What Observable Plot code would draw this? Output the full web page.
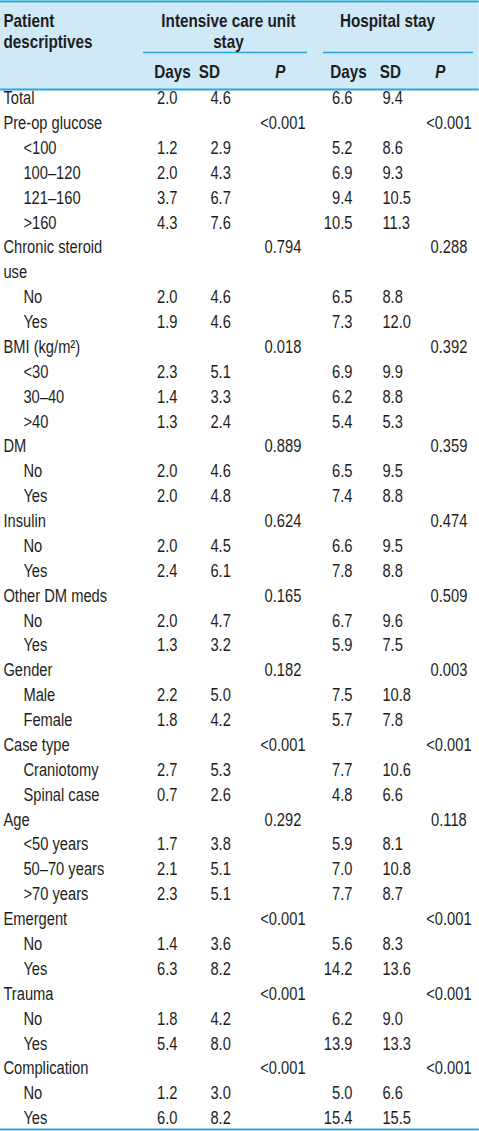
<!DOCTYPE html>
<html><head><meta charset="utf-8">
<script src="https://cdn.jsdelivr.net/npm/d3@7"></script>
<script src="https://cdn.jsdelivr.net/npm/@observablehq/plot@0.6"></script>
<style>html,body{margin:0;padding:0;background:#fff;overflow:hidden} svg{display:block}</style>
</head><body><div id="chart"></div>
<script>
// ---- data ----
const labels = ["Total","Pre-op glucose","<100","100–120","121–160",">160","Chronic steroid\nuse","No","Yes","BMI (kg/m²)","<30","30–40",">40","DM","No","Yes","Insulin","No","Yes","Other DM meds","No","Yes","Gender","Male","Female","Case type","Craniotomy","Spinal case","Age","<50 years","50–70 years",">70 years","Emergent","No","Yes","Trauma","No","Yes","Complication","No","Yes"];
const indent = [0,0,1,1,1,1,0,1,1,0,1,1,1,0,1,1,0,1,1,0,1,1,0,1,1,0,1,1,0,1,1,1,0,1,1,0,1,1,0,1,1];
const icuDays = [2.0,null,1.2,2.0,3.7,4.3,null,2.0,1.9,null,2.3,1.4,1.3,null,2.0,2.0,null,2.0,2.4,null,2.0,1.3,null,2.2,1.8,null,2.7,0.7,null,1.7,2.1,2.3,null,1.4,6.3,null,1.8,5.4,null,1.2,6.0];
const icuSD = [4.6,null,2.9,4.3,6.7,7.6,null,4.6,4.6,null,5.1,3.3,2.4,null,4.6,4.8,null,4.5,6.1,null,4.7,3.2,null,5.0,4.2,null,5.3,2.6,null,3.8,5.1,5.1,null,3.6,8.2,null,4.2,8.0,null,3.0,8.2];
const icuP = [null,"<0.001",null,null,null,null,"0.794",null,null,"0.018",null,null,null,"0.889",null,null,"0.624",null,null,"0.165",null,null,"0.182",null,null,"<0.001",null,null,"0.292",null,null,null,"<0.001",null,null,"<0.001",null,null,"<0.001",null,null];
const hospDays = [6.6,null,5.2,6.9,9.4,10.5,null,6.5,7.3,null,6.9,6.2,5.4,null,6.5,7.4,null,6.6,7.8,null,6.7,5.9,null,7.5,5.7,null,7.7,4.8,null,5.9,7.0,7.7,null,5.6,14.2,null,6.2,13.9,null,5.0,15.4];
const hospSD = [9.4,null,8.6,9.3,10.5,11.3,null,8.8,12.0,null,9.9,8.8,5.3,null,9.5,8.8,null,9.5,8.8,null,9.6,7.5,null,10.8,7.8,null,10.6,6.6,null,8.1,10.8,8.7,null,8.3,13.6,null,9.0,13.3,null,6.6,15.5];
const hospP = [null,"<0.001",null,null,null,null,"0.288",null,null,"0.392",null,null,null,"0.359",null,null,"0.474",null,null,"0.509",null,null,"0.003",null,null,"<0.001",null,null,"0.118",null,null,null,"<0.001",null,null,"<0.001",null,null,"<0.001",null,null];
const groupHeaders = ["Intensive care unit\nstay", "Hospital stay"];
const subHeaders = ["Days","SD","P","Days","SD","P"];
const stubHeader = "Patient\ndescriptives";

// ---- layout ----
const W = 479, H = 1131;
const SQUEEZE = 0.84;                       // horizontal condensing of the whole drawing (narrow type)
const firstRow = 98, LH = 24.88;            // pixel position of first body line, line height
const px = p => (p - firstRow) / LH;        // pixel -> line units
const FONT = "'Liberation Sans',Arial,sans-serif";
const FS = 17.5, FSB = 18.2;
const INK = "#1e1e1e", LINE = "#2aa7d7", HEAD_BG = "#cfe9f7";

let cur = 0;
const rows = labels.map((label, i) => {
  const r = {label, indent: indent[i], line: cur,
    icuDays: icuDays[i], icuSD: icuSD[i], icuP: icuP[i],
    hospDays: hospDays[i], hospSD: hospSD[i], hospP: hospP[i]};
  cur += label.split("\n").length;
  return r;
});
const labelLines = rows.flatMap(r => r.label.split("\n").map((t, k) => ({text: t, line: r.line + k, indent: r.indent})));
const f1 = d3.format(".1f");

const cols = [
  ["icuDays", 177, "end", f1], ["icuSD", 210, "start", f1], ["icuP", 282.5, "middle", d => d],
  ["hospDays", 352, "end", f1], ["hospSD", 382, "start", f1], ["hospP", 448.5, "middle", d => d]
];
const subHeadX = [172, 209, 280, 348, 390, 440];
const groupX = [228, 387];
const groupLine = [[143, 307], [323, 473]];

const textCommon = {fontFamily: FONT, fontSize: FS, fill: INK};
const boldCommon = {fontFamily: FONT, fontSize: FSB, fill: INK, fontWeight: "bold", lineHeight: 21.5 / FSB};
const subIdx = subHeaders.map((d, i) => i);

const marks = [
  Plot.rect([0], {x1: 0, x2: W, y1: px(0), y2: px(89), fill: HEAD_BG}),
  Plot.ruleY([px(1), px(89), px(1129)], {x1: 0, x2: W, stroke: LINE, strokeWidth: 2}),
  Plot.ruleY(groupLine, {y: px(52), x1: d => d[0], x2: d => d[1], stroke: LINE, strokeWidth: 1.5}),
  Plot.text([stubHeader], {x: 3, y: px(18), text: d => d, textAnchor: "start", lineAnchor: "top", dy: -0.38 * FSB, ...boldCommon}),
  Plot.text(groupHeaders, {x: (d, i) => groupX[i], y: px(18), text: d => d, textAnchor: "middle", lineAnchor: "top", dy: -0.38 * FSB, ...boldCommon}),
  Plot.text(subIdx.filter(i => subHeaders[i] !== "P"), {x: i => subHeadX[i], y: px(71), text: i => subHeaders[i], textAnchor: "middle", ...boldCommon}),
  Plot.text(subIdx.filter(i => subHeaders[i] === "P"), {x: i => subHeadX[i], y: px(71), text: i => subHeaders[i], textAnchor: "middle", ...boldCommon, fontStyle: "italic"}),
  Plot.text(labelLines, {x: d => d.indent ? 23 : 3, y: "line", text: "text", textAnchor: "start", ...textCommon}),
  ...cols.map(([key, x, anchor, fmt]) =>
    Plot.text(rows.filter(r => r[key] != null), {x: x, y: "line", text: r => fmt(r[key]), textAnchor: anchor, ...textCommon}))
];

const WW = W / SQUEEZE;
const chart = Plot.plot({
  width: WW, height: H, margin: 0,
  x: {type: "linear", domain: [0, W], range: [0, WW], axis: null},
  y: {type: "linear", domain: [px(0), px(H)], range: [0, H], axis: null},
  style: {fontFamily: FONT, fontSize: FS + "px", background: "#fff", color: INK, maxWidth: "none", width: WW + "px", height: H + "px"},
  marks
});
chart.style.maxWidth = "none";
chart.style.width = WW + "px";
chart.style.height = H + "px";
chart.style.transformOrigin = "0 0";
chart.style.transform = `scaleX(${SQUEEZE})`;
document.getElementById("chart").appendChild(chart);
</script></body></html>
